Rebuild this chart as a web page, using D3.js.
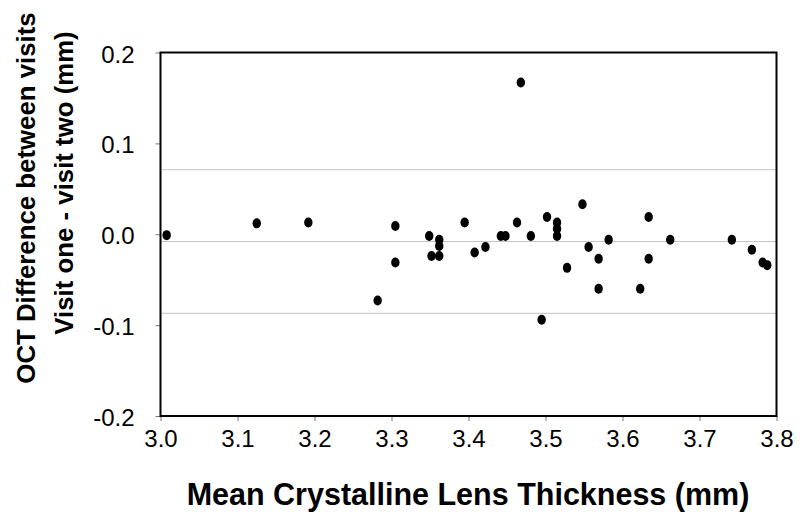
<!DOCTYPE html>
<html>
<head>
<meta charset="utf-8">
<script src="https://cdn.jsdelivr.net/npm/d3@7"></script>
<style>
  body { margin: 0; background: #fff; }
  svg { font-family: "Liberation Sans", Arial, sans-serif; }
</style>
</head>
<body>
<div id="chart"></div>
<script>
// lens thickness (mm) vs difference between visits (mm)
const lensThickness = [3.008, 3.125, 3.192, 3.305, 3.305, 3.282, 3.349, 3.362, 3.362, 3.352,
    3.362, 3.395, 3.408, 3.422, 3.442, 3.448, 3.463, 3.481, 3.502, 3.515,
    3.515, 3.515, 3.495, 3.528, 3.548, 3.556, 3.569, 3.569, 3.582, 3.623,
    3.634, 3.634, 3.662, 3.742, 3.768, 3.782, 3.788, 3.468];
const visitDiff = [-0.001, 0.012, 0.013, 0.009, -0.031, -0.073, -0.002, -0.006, -0.013, -0.024,
    -0.024, 0.013, -0.020, -0.014, -0.002, -0.002, 0.013, -0.002, 0.019, 0.013,
    0.006, -0.002, -0.094, -0.037, 0.033, -0.014, -0.027, -0.060, -0.006, -0.060,
    0.019, -0.027, -0.006, -0.006, -0.017, -0.031, -0.034, 0.167];

// mean difference and limits of agreement
const refLines = [0.071, -0.008, -0.087];

const xTicks = [3.0, 3.1, 3.2, 3.3, 3.4, 3.5, 3.6, 3.7, 3.8];
const yTicks = [0.2, 0.1, 0.0, -0.1, -0.2];

const width = 800, height = 525;
const margin = { top: 52.5, right: 23.5, bottom: 109, left: 160.5 };

const svg = d3.select('#chart').append('svg')
    .attr('width', width)
    .attr('height', height);

const x = d3.scaleLinear().domain([3.0, 3.8]).range([margin.left, width - margin.right]);
const y = d3.scaleLinear().domain([-0.2, 0.2]).range([height - margin.bottom, margin.top]);

// plain hyphen for negatives, like the original
const fmt = d => d3.format('.1f')(d).replace('\u2212', '-');

// reference lines
svg.append('g')
    .selectAll('line')
    .data(refLines)
    .enter().append('line')
    .attr('x1', x(3.0))
    .attr('x2', x(3.8))
    .attr('y1', d => y(d))
    .attr('y2', d => y(d))
    .attr('stroke', '#c4c4c4')
    .attr('stroke-width', 1);

// axes
const xAxis = svg.append('g')
    .attr('transform', `translate(0,${y(-0.2)})`)
    .call(d3.axisBottom(x).tickValues(xTicks).tickFormat(fmt).tickSize(5).tickPadding(9).tickSizeOuter(0));

const yAxis = svg.append('g')
    .attr('transform', `translate(${x(3.0)},0)`)
    .call(d3.axisLeft(y).tickValues(yTicks).tickFormat(fmt).tickSize(5).tickPadding(21).tickSizeOuter(0));

[xAxis, yAxis].forEach(a => {
    a.select('.domain').remove();
    a.selectAll('.tick line').attr('stroke', '#777').attr('stroke-width', 1);
    a.selectAll('.tick text')
        .attr('fill', '#000')
        .style('font-size', '24px')
        .style('font-family', '"Liberation Sans", Arial, sans-serif');
});
yAxis.selectAll('.tick text').attr('dy', '0.4em');

// plot frame
svg.append('rect')
    .attr('x', x(3.0))
    .attr('y', y(0.2))
    .attr('width', x(3.8) - x(3.0))
    .attr('height', y(-0.2) - y(0.2))
    .attr('fill', 'none')
    .attr('stroke', '#000')
    .attr('stroke-width', 2);

// points
svg.append('g')
    .selectAll('ellipse')
    .data(lensThickness.map((d, i) => ({ x: d, y: visitDiff[i] })))
    .enter().append('ellipse')
    .attr('cx', d => x(d.x))
    .attr('cy', d => y(d.y))
    .attr('rx', 4.2)
    .attr('ry', 5)
    .attr('fill', '#000');

// titles
svg.append('text')
    .attr('x', 468)
    .attr('y', 505)
    .attr('text-anchor', 'middle')
    .style('font-size', '30.5px')
    .style('font-weight', 'bold')
    .text('Mean Crystalline Lens Thickness (mm)');

svg.append('text')
    .attr('transform', 'translate(35,198) rotate(-90)')
    .attr('text-anchor', 'middle')
    .style('font-size', '25.8px')
    .style('font-weight', 'bold')
    .text('OCT Difference between visits');

svg.append('text')
    .attr('transform', 'translate(73,183) rotate(-90)')
    .attr('text-anchor', 'middle')
    .style('font-size', '25.8px')
    .style('font-weight', 'bold')
    .text('Visit one - visit two (mm)');
</script>
</body>
</html>
